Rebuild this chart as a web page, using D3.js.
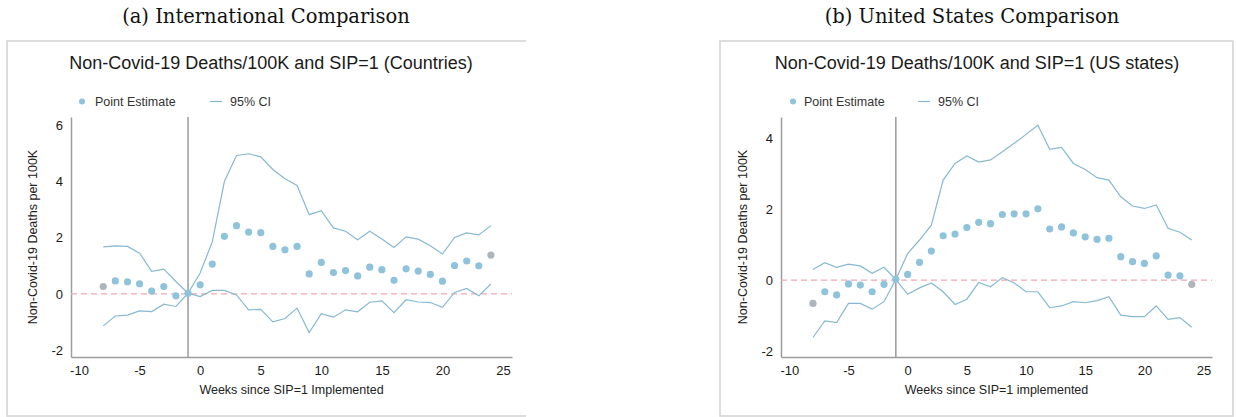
<!DOCTYPE html>
<html><head><meta charset="utf-8">
<script src="https://cdn.jsdelivr.net/npm/d3@7"></script>
<style>body{margin:0;background:#fff}svg{display:block}</style>
</head><body>
<script>
// ---------- data ----------
const weeks = d3.range(-8, 25); // -8 .. 24
const xTicks = [-10, -5, 0, 5, 10, 15, 20, 25];

const intlPoint = [0.26,0.46,0.43,0.36,0.10,0.26,-0.07,0.02,0.32,1.06,2.05,2.43,2.20,2.18,1.69,1.57,1.69,0.71,1.12,0.76,0.83,0.64,0.95,0.86,0.48,0.89,0.81,0.69,0.45,1.01,1.17,1.00,1.38];
const intlUpper = [1.67,1.71,1.69,1.45,0.80,0.88,0.44,0.02,0.74,1.85,4.00,4.93,4.99,4.88,4.43,4.10,3.86,2.82,2.96,2.35,2.23,1.93,2.23,1.95,1.65,2.03,1.95,1.71,1.42,2.01,2.17,2.10,2.43];
const intlLower = [-1.14,-0.79,-0.76,-0.61,-0.63,-0.37,-0.45,0.02,-0.10,0.12,0.12,-0.04,-0.57,-0.55,-1.00,-0.88,-0.51,-1.38,-0.71,-0.83,-0.57,-0.64,-0.30,-0.25,-0.67,-0.21,-0.29,-0.31,-0.48,0.05,0.19,-0.07,0.35];
const intlYTicks = [-2, 0, 2, 4, 6];

const usPoint = [-0.66,-0.33,-0.42,-0.11,-0.14,-0.33,-0.12,0.02,0.16,0.50,0.82,1.25,1.30,1.48,1.63,1.59,1.85,1.87,1.87,2.01,1.44,1.50,1.33,1.22,1.15,1.18,0.66,0.52,0.47,0.68,0.14,0.12,-0.12];
const usUpper = [0.30,0.49,0.36,0.45,0.40,0.19,0.36,0.02,0.75,1.13,1.55,2.82,3.29,3.50,3.33,3.39,3.62,3.86,4.11,4.37,3.69,3.74,3.29,3.12,2.89,2.82,2.35,2.09,2.02,2.12,1.46,1.35,1.13];
const usLower = [-1.62,-1.15,-1.20,-0.66,-0.66,-0.82,-0.61,0.02,-0.40,-0.22,-0.08,-0.33,-0.69,-0.54,-0.07,-0.19,0.07,-0.08,-0.33,-0.33,-0.78,-0.73,-0.61,-0.64,-0.58,-0.47,-0.99,-1.03,-1.03,-0.73,-1.11,-1.06,-1.33];
const usYTicks = [-2, 0, 2, 4];

const captions = ["(a) International Comparison", "(b) United States Comparison"];
const titles = ["Non-Covid-19 Deaths/100K and SIP=1 (Countries)", "Non-Covid-19 Deaths/100K and SIP=1 (US states)"];
const xLabels = ["Weeks since SIP=1 Implemented", "Weeks since SIP=1 implemented"];
const yLabel = "Non-Covid-19 Deaths per 100K";
const legendLabels = ["Point Estimate", "95% CI"];
const refWeek = -1;

// ---------- drawing ----------
const W = 1236, H = 417;
const svg = d3.select("body").append("svg").attr("width", W).attr("height", H);

const dotColor = "#8fc3dc", endColor = "#afb5b9", ciColor = "#86b9d1";
const sans = "'Liberation Sans', Arial, Helvetica, sans-serif";

const panels = [
  {point: intlPoint, upper: intlUpper, lower: intlLower, yTicks: intlYTicks,
   xDom: [-10.66, 25.74], xRange: [71, 512], yDom: [-2.25, 6.3], yRange: [357, 117],
   box: [7, 41, 526, 416], rightEdge: false, capX: 266, titleX: 271,
   leg: {dot: 82, txt: 95, l1: 210, l2: 222, txt2: 230}, yLabX: 37},
  {point: usPoint, upper: usUpper, lower: usLower, yTicks: usYTicks,
   xDom: [-10.7, 25.71], xRange: [781, 1212], yDom: [-2.17, 4.6], yRange: [357, 117],
   box: [720, 41, 1233, 416], rightEdge: true, capX: 972, titleX: 977,
   leg: {dot: 793, txt: 804, l1: 918, l2: 930, txt2: 938}, yLabX: 747}
];

panels.forEach((p, i) => {
  const g = svg.append("g");
  const [bx0, by0, bx1, by1] = p.box;
  const boxPath = p.rightEdge
    ? `M${bx1},${by0}H${bx0}V${by1}H${bx1}V${by0}`
    : `M${bx1},${by0}H${bx0}V${by1}H${bx1}`;
  g.append("path").attr("d", boxPath).attr("fill", "none").attr("stroke", "#d2d2d2").attr("stroke-width", 1.5);

  g.append("text").attr("x", p.capX).attr("y", 23).attr("text-anchor", "middle")
    .attr("font-family", "'DejaVu Serif', 'Liberation Serif', serif").attr("font-size", 19.5)
    .attr("fill", "#111").text(captions[i]);

  g.append("text").attr("x", p.titleX).attr("y", 69).attr("text-anchor", "middle")
    .attr("font-family", sans).attr("font-size", 18).attr("fill", "#1a1a1a").text(titles[i]);

  // legend
  g.append("circle").attr("cx", p.leg.dot).attr("cy", 101.5).attr("r", 3).attr("fill", dotColor);
  g.append("text").attr("x", p.leg.txt).attr("y", 106).attr("font-family", sans).attr("font-size", 12.5)
    .attr("fill", "#333").text(legendLabels[0]);
  g.append("line").attr("x1", p.leg.l1).attr("x2", p.leg.l2).attr("y1", 101.5).attr("y2", 101.5)
    .attr("stroke", ciColor).attr("stroke-width", 1.2);
  g.append("text").attr("x", p.leg.txt2).attr("y", 106).attr("font-family", sans).attr("font-size", 12.5)
    .attr("fill", "#333").text(legendLabels[1]);

  const x = d3.scaleLinear().domain(p.xDom).range(p.xRange);
  const y = d3.scaleLinear().domain(p.yDom).range(p.yRange);

  // axes
  const xAxis = g.append("g").attr("transform", `translate(0,${p.yRange[0]})`)
    .call(d3.axisBottom(x).tickValues(xTicks).tickSize(0).tickPadding(9).tickFormat(d3.format("d")));
  const yAxis = g.append("g").attr("transform", `translate(${p.xRange[0]},0)`)
    .call(d3.axisLeft(y).tickValues(p.yTicks).tickSize(0).tickPadding(8).tickFormat(d3.format("d")));
  [xAxis, yAxis].forEach(a => {
    a.select(".domain").attr("stroke", "#9c9c9c").attr("stroke-width", 1.5);
    a.selectAll("text").attr("font-family", sans).attr("font-size", 13).attr("fill", "#1a1a1a");
  });
  xAxis.selectAll("text").text(d => d < 0 ? "-" + Math.abs(d) : d);
  yAxis.selectAll("text").text(d => d < 0 ? "-" + Math.abs(d) : d);

  // zero dashed line
  g.append("line").attr("x1", x(p.xDom[0])).attr("x2", x(p.xDom[1])).attr("y1", y(0)).attr("y2", y(0))
    .attr("stroke", "#f2a7b1").attr("stroke-width", 1.3).attr("stroke-dasharray", "6,4");

  // reference vertical line
  g.append("line").attr("x1", x(refWeek)).attr("x2", x(refWeek)).attr("y1", y(p.yDom[1])).attr("y2", y(p.yDom[0]))
    .attr("stroke", "#9c9c9c").attr("stroke-width", 1.5);

  // CI lines
  const line = d3.line().x((d, j) => x(weeks[j])).y(d => y(d));
  [p.upper, p.lower].forEach(arr => {
    g.append("path").datum(arr).attr("d", line).attr("fill", "none")
      .attr("stroke", ciColor).attr("stroke-width", 1.2);
  });

  // points
  g.selectAll(".pt").data(p.point).enter().append("circle")
    .attr("cx", (d, j) => x(weeks[j])).attr("cy", d => y(d)).attr("r", 3.6)
    .attr("fill", (d, j) => (j === 0 || j === weeks.length - 1) ? endColor : dotColor);

  // axis labels
  g.append("text").attr("x", (p.xRange[0] + p.xRange[1]) / 2).attr("y", 394).attr("text-anchor", "middle")
    .attr("font-family", sans).attr("font-size", 12.5).attr("fill", "#222").text(xLabels[i]);
  g.append("text").attr("transform", `translate(${p.yLabX},237) rotate(-90)`).attr("text-anchor", "middle")
    .attr("font-family", sans).attr("font-size", 12.5).attr("fill", "#222").text(yLabel);
});
</script>
</body></html>
